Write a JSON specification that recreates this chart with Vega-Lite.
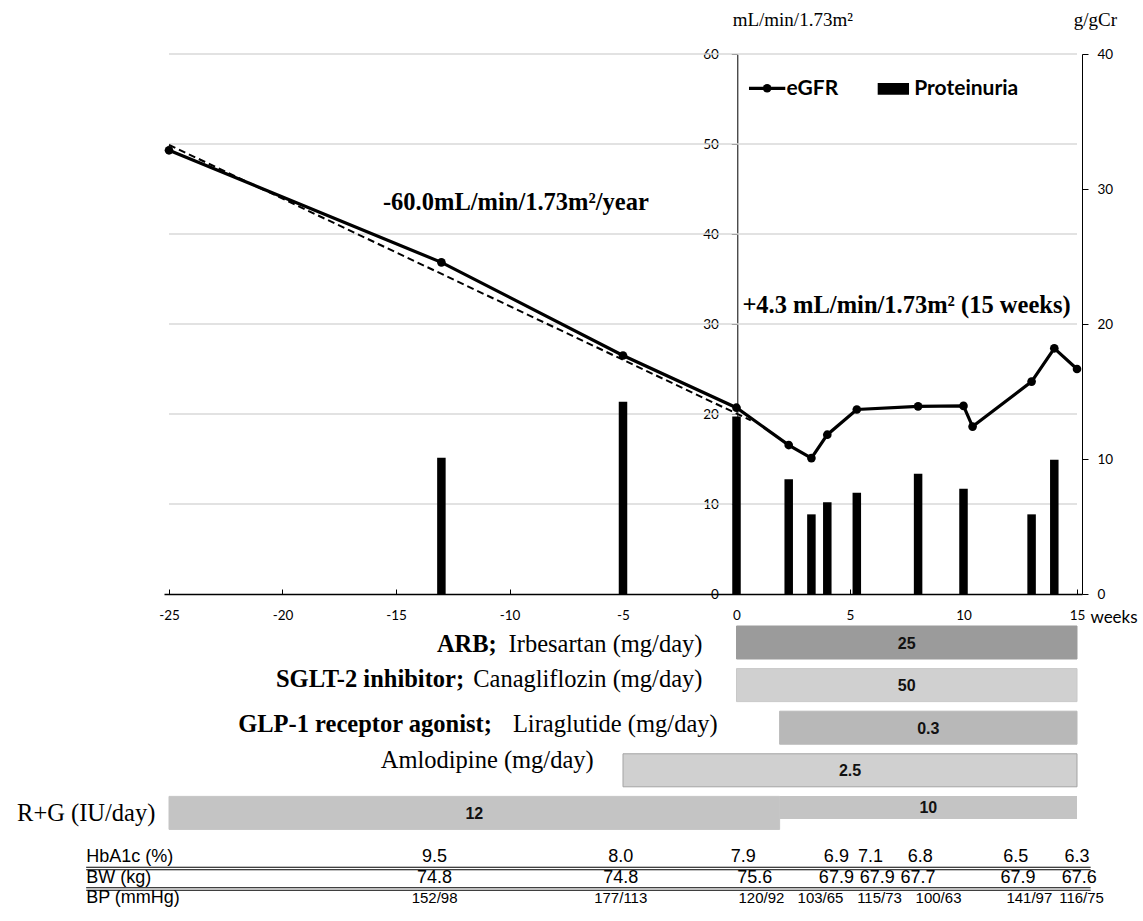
{
  "$schema": "https://vega.github.io/schema/vega-lite/v6.json",
  "width": 918,
  "height": 540,
  "autosize": {"type": "none"},
  "padding": {"left": 164, "top": 54, "right": 61, "bottom": 327},
  "background": "white",
  "config": {"view": {"stroke": null}},
  "datasets": {
    "egfr": [
      {"week": -25, "egfr": 49.3}, {"week": -13, "egfr": 36.85}, {"week": -5, "egfr": 26.5},
      {"week": 0, "egfr": 20.7}, {"week": 2.3, "egfr": 16.55}, {"week": 3.3, "egfr": 15.1},
      {"week": 4.0, "egfr": 17.7}, {"week": 5.3, "egfr": 20.5}, {"week": 8.0, "egfr": 20.85},
      {"week": 10.0, "egfr": 20.9}, {"week": 10.4, "egfr": 18.6}, {"week": 13.0, "egfr": 23.6},
      {"week": 14.0, "egfr": 27.3}, {"week": 15.0, "egfr": 25.0}
    ],
    "trend": [{"week": -25, "egfr": 49.9}, {"week": 0.63, "egfr": 19.3}],
    "gridvals": [{"level": 10}, {"level": 20}, {"level": 30}, {"level": 40}, {"level": 50}, {"level": 60}],
    "prot": [
      {"week": -13, "prot": 10.1}, {"week": -5, "prot": 14.25}, {"week": 0, "prot": 13.15},
      {"week": 2.3, "prot": 8.5}, {"week": 3.3, "prot": 5.9}, {"week": 4.0, "prot": 6.8},
      {"week": 5.3, "prot": 7.5}, {"week": 8.0, "prot": 8.9}, {"week": 10.0, "prot": 7.8},
      {"week": 13.0, "prot": 5.9}, {"week": 14.0, "prot": 9.95}
    ],
    "rx": [
      {"row": "ARB", "week": 0, "week_end": 15, "dose": "25", "part": "a"},
      {"row": "SGLT2", "week": 0, "week_end": 15, "dose": "50", "part": "a"},
      {"row": "GLP1", "week": 1.9, "week_end": 15, "dose": "0.3", "part": "a"},
      {"row": "Amlo", "week": -5, "week_end": 15, "dose": "2.5", "part": "a"},
      {"row": "RG", "week": -25, "week_end": 1.9, "dose": "12", "part": "a"},
      {"row": "RG", "week": 1.9, "week_end": 15, "dose": "10", "part": "b"}
    ],
    "tbl": [
      {"row": "HbA1c", "week": -13.3, "v": "9.5"}, {"row": "HbA1c", "week": -5.1, "v": "8.0"},
      {"row": "HbA1c", "week": 0.3, "v": "7.9"}, {"row": "HbA1c", "week": 4.4, "v": "6.9"},
      {"row": "HbA1c", "week": 5.9, "v": "7.1"}, {"row": "HbA1c", "week": 8.1, "v": "6.8"},
      {"row": "HbA1c", "week": 12.3, "v": "6.5"}, {"row": "HbA1c", "week": 15.0, "v": "6.3"},
      {"row": "BW", "week": -13.3, "v": "74.8"}, {"row": "BW", "week": -5.1, "v": "74.8"},
      {"row": "BW", "week": 0.8, "v": "75.6"}, {"row": "BW", "week": 4.4, "v": "67.9"},
      {"row": "BW", "week": 6.2, "v": "67.9"}, {"row": "BW", "week": 8.0, "v": "67.7"},
      {"row": "BW", "week": 12.4, "v": "67.9"}, {"row": "BW", "week": 15.1, "v": "67.6"},
      {"row": "BP", "week": -13.3, "v": "152/98"}, {"row": "BP", "week": -5.1, "v": "177/113"},
      {"row": "BP", "week": 1.1, "v": "120/92"}, {"row": "BP", "week": 3.7, "v": "103/65"},
      {"row": "BP", "week": 6.3, "v": "115/73"}, {"row": "BP", "week": 8.9, "v": "100/63"},
      {"row": "BP", "week": 12.9, "v": "141/97"}, {"row": "BP", "week": 15.2, "v": "116/75"}
    ]
  },
  "layer": [
    {
      "data": {"name": "gridvals"},
      "mark": {"type": "rule", "color": "#d9d9d9", "strokeWidth": 1.3},
      "encoding": {
        "x": {"datum": -25},
        "x2": {"datum": 15},
        "y": {"field": "level", "type": "quantitative", "scale": {"domain": [0, 60], "nice": false}, "axis": null}
      }
    },
    {
      "data": {"name": "prot"},
      "mark": {"type": "bar", "width": 8.5, "color": "black"},
      "encoding": {
        "x": {
          "field": "week", "type": "quantitative", "title": null,
          "scale": {"domain": [-25, 15], "nice": false, "zero": false},
          "axis": {
            "values": [-25, -20, -15, -10, -5, 0, 5, 10, 15], "grid": false,
            "labelExpr": "'' + datum.value",
            "tickSize": -5, "labelPadding": 19, "labelFlush": false,
            "domainColor": "black", "tickColor": "black", "domainWidth": 1.3,
            "labelColor": "black", "labelFont": "Lato", "labelFontSize": 13.5
          }
        },
        "y": {
          "field": "prot", "type": "quantitative", "title": null,
          "scale": {"domain": [0, 40], "nice": false},
          "axis": {
            "orient": "right", "values": [0, 10, 20, 30, 40], "grid": false,
            "tickSize": 6, "labelPadding": 9, "domainColor": "black", "tickColor": "black",
            "labelColor": "black", "labelFont": "Lato", "labelFontSize": 13.5
          }
        }
      }
    },
    {
      "layer": [
        {
          "data": {"name": "egfr"},
          "mark": {"type": "line", "color": "black", "strokeWidth": 3.2, "point": {"filled": true, "size": 75, "color": "black"}},
          "encoding": {
            "x": {"field": "week", "type": "quantitative", "title": null},
            "y": {
              "field": "egfr", "type": "quantitative", "title": null,
              "scale": {"domain": [0, 60], "nice": false},
              "axis": {
                "orient": "left", "offset": -573.3, "values": [0, 10, 20, 30, 40, 50, 60], "grid": false,
                "tickSize": 6, "labelPadding": 13, "domainColor": "black", "tickColor": "black",
                "labelColor": "black", "labelFont": "Lato", "labelFontSize": 13.5
              }
            }
          }
        },
        {
          "data": {"name": "trend"},
          "mark": {"type": "line", "color": "black", "strokeWidth": 2, "strokeDash": [7, 4]},
          "encoding": {
            "x": {"field": "week", "type": "quantitative", "title": null},
            "y": {"field": "egfr", "type": "quantitative", "title": null}
          }
        },
        {
          "data": {"values": [{}]},
          "mark": {"type": "text", "text": "-60.0mL/min/1.73m²/year", "font": "Liberation Serif", "fontWeight": "bold", "fontSize": 24.5, "align": "left", "baseline": "alphabetic", "color": "black"},
          "encoding": {"x": {"datum": -15.575}, "y": {"datum": 42.7}}
        },
        {
          "data": {"values": [{}]},
          "mark": {"type": "text", "text": "+4.3 mL/min/1.73m² (15 weeks)", "font": "Liberation Serif", "fontWeight": "bold", "fontSize": 24.5, "align": "left", "baseline": "alphabetic", "color": "black"},
          "encoding": {"x": {"datum": 0.26}, "y": {"datum": 31.2}}
        },
        {
          "data": {"values": [{}]},
          "mark": {"type": "text", "text": "mL/min/1.73m²", "font": "Liberation Serif", "fontSize": 19, "align": "left", "baseline": "alphabetic", "color": "black"},
          "encoding": {"x": {"datum": -0.17}, "y": {"datum": 63.07}}
        },
        {
          "data": {"values": [{}]},
          "mark": {"type": "text", "text": "g/gCr", "font": "Liberation Serif", "fontSize": 19, "align": "left", "baseline": "alphabetic", "color": "black"},
          "encoding": {"x": {"datum": 14.86}, "y": {"datum": 63.07}}
        },
        {
          "data": {"values": [{}]},
          "mark": {"type": "text", "text": "weeks", "font": "Lato", "fontSize": 17, "align": "left", "baseline": "alphabetic", "color": "black"},
          "encoding": {"x": {"datum": 15.59}, "y": {"datum": -3.22}}
        },
        {
          "data": {"values": [{}]},
          "mark": {"type": "rule", "color": "black", "strokeWidth": 3.2},
          "encoding": {"x": {"datum": 0.55}, "x2": {"datum": 2.15}, "y": {"datum": 56.19}}
        },
        {
          "data": {"values": [{}]},
          "mark": {"type": "point", "filled": true, "size": 75, "color": "black", "opacity": 1},
          "encoding": {"x": {"datum": 1.35}, "y": {"datum": 56.19}}
        },
        {
          "data": {"values": [{}]},
          "mark": {"type": "text", "text": "eGFR", "font": "Lato", "fontWeight": "bold", "fontSize": 21, "align": "left", "baseline": "alphabetic", "color": "black"},
          "encoding": {"x": {"datum": 2.2}, "y": {"datum": 55.47}}
        },
        {
          "data": {"values": [{}]},
          "mark": {"type": "rect", "color": "black"},
          "encoding": {"x": {"datum": 6.22}, "x2": {"datum": 7.6}, "y": {"datum": 56.78}, "y2": {"datum": 55.48}}
        },
        {
          "data": {"values": [{}]},
          "mark": {"type": "text", "text": "Proteinuria", "font": "Lato", "fontWeight": "bold", "fontSize": 21, "align": "left", "baseline": "alphabetic", "color": "black"},
          "encoding": {"x": {"datum": 7.83}, "y": {"datum": 55.47}}
        }
      ]
    },
    {
      "layer": [
        {
          "data": {"name": "rx"},
          "transform": [{"filter": "datum.part == 'a'"}],
          "mark": {"type": "bar", "strokeWidth": 1},
          "encoding": {
            "x": {"field": "week", "type": "quantitative", "title": null},
            "x2": {"field": "week_end"},
            "y": {
              "field": "row", "type": "nominal", "axis": null,
              "scale": {"type": "band", "domain": ["ARB", "SGLT2", "GLP1", "Amlo", "RG"], "range": [572, 775.4], "paddingInner": 0.225, "paddingOuter": 0}
            },
            "color": {"field": "row", "type": "nominal", "legend": null, "scale": {"domain": ["ARB", "SGLT2", "GLP1", "Amlo", "RG"], "range": ["#9b9b9b", "#d0d0d0", "#b8b8b8", "#d0d0d0", "#c4c4c4"]}},
            "stroke": {"field": "row", "type": "nominal", "legend": null, "scale": {"domain": ["ARB", "SGLT2", "GLP1", "Amlo", "RG"], "range": ["#9b9b9b", "#c8c8c8", "#b8b8b8", "#a3a3a3", "#c4c4c4"]}}
          }
        },
        {
          "data": {"name": "rx"},
          "transform": [{"filter": "datum.part == 'b'"}],
          "mark": {"type": "bar", "height": 23, "yOffset": -5.4, "color": "#c4c4c4"},
          "encoding": {
            "x": {"field": "week", "type": "quantitative", "title": null},
            "x2": {"field": "week_end"},
            "y": {"field": "row", "type": "nominal"}
          }
        },
        {
          "data": {"name": "rx"},
          "transform": [{"filter": "datum.part == 'a'"}, {"calculate": "(datum.week + datum.week_end) / 2", "as": "mid"}],
          "mark": {"type": "text", "font": "Liberation Sans", "fontWeight": "bold", "fontSize": 16, "baseline": "middle", "dy": 1, "color": "#111"},
          "encoding": {"x": {"field": "mid", "type": "quantitative", "title": null}, "y": {"field": "row", "type": "nominal"}, "text": {"field": "dose"}}
        },
        {
          "data": {"name": "rx"},
          "transform": [{"filter": "datum.part == 'b'"}, {"calculate": "(datum.week + datum.week_end) / 2", "as": "mid"}],
          "mark": {"type": "text", "font": "Liberation Sans", "fontWeight": "bold", "fontSize": 16, "baseline": "middle", "dy": -5, "color": "#111"},
          "encoding": {"x": {"field": "mid", "type": "quantitative", "title": null}, "y": {"field": "row", "type": "nominal"}, "text": {"field": "dose"}}
        },
        {
          "data": {"values": [{}]},
          "mark": {"type": "text", "text": "ARB;", "font": "Liberation Serif", "fontWeight": "bold", "fontSize": 24.5, "align": "right", "baseline": "alphabetic", "dy": 9.2, "color": "black"},
          "encoding": {"x": {"datum": -10.56}, "y": {"datum": "ARB"}}
        },
        {
          "data": {"values": [{}]},
          "mark": {"type": "text", "text": "Irbesartan (mg/day)", "font": "Liberation Serif", "fontSize": 24.5, "align": "right", "baseline": "alphabetic", "dy": 9.2, "color": "black"},
          "encoding": {"x": {"datum": -1.5}, "y": {"datum": "ARB"}}
        },
        {
          "data": {"values": [{}]},
          "mark": {"type": "text", "text": "SGLT-2 inhibitor;", "font": "Liberation Serif", "fontWeight": "bold", "fontSize": 24.5, "align": "right", "baseline": "alphabetic", "dy": 1.6, "color": "black"},
          "encoding": {"x": {"datum": -12.0}, "y": {"datum": "SGLT2"}}
        },
        {
          "data": {"values": [{}]},
          "mark": {"type": "text", "text": "Canagliflozin (mg/day)", "font": "Liberation Serif", "fontSize": 24.5, "align": "right", "baseline": "alphabetic", "dy": 1.6, "color": "black"},
          "encoding": {"x": {"datum": -1.5}, "y": {"datum": "SGLT2"}}
        },
        {
          "data": {"values": [{}]},
          "mark": {"type": "text", "text": "GLP-1 receptor agonist;", "font": "Liberation Serif", "fontWeight": "bold", "fontSize": 24.5, "align": "right", "baseline": "alphabetic", "dy": 4, "color": "black"},
          "encoding": {"x": {"datum": -10.78}, "y": {"datum": "GLP1"}}
        },
        {
          "data": {"values": [{}]},
          "mark": {"type": "text", "text": "Liraglutide (mg/day)", "font": "Liberation Serif", "fontSize": 24.5, "align": "right", "baseline": "alphabetic", "dy": 4, "color": "black"},
          "encoding": {"x": {"datum": -0.83}, "y": {"datum": "GLP1"}}
        },
        {
          "data": {"values": [{}]},
          "mark": {"type": "text", "text": "Amlodipine (mg/day)", "font": "Liberation Serif", "fontSize": 24.5, "align": "right", "baseline": "alphabetic", "dy": -2, "color": "black"},
          "encoding": {"x": {"datum": -6.29}, "y": {"datum": "Amlo"}}
        },
        {
          "data": {"values": [{}]},
          "mark": {"type": "text", "text": "R+G (IU/day)", "font": "Liberation Serif", "fontSize": 24.5, "align": "right", "baseline": "alphabetic", "dy": 8, "color": "black"},
          "encoding": {"x": {"datum": -25.6}, "y": {"datum": "RG"}}
        }
      ]
    },
    {
      "layer": [
        {
          "data": {"name": "tbl"},
          "transform": [{"filter": "datum.row != 'BP'"}],
          "mark": {"type": "text", "font": "Liberation Sans", "fontSize": 18, "baseline": "middle", "color": "black"},
          "encoding": {
            "x": {"field": "week", "type": "quantitative", "title": null},
            "y": {
              "field": "row", "type": "nominal", "axis": null,
              "scale": {"type": "band", "domain": ["HbA1c", "BW", "BP"], "range": [792.75, 854.25], "paddingInner": 0, "paddingOuter": 0}
            },
            "text": {"field": "v"}
          }
        },
        {
          "data": {"name": "tbl"},
          "transform": [{"filter": "datum.row == 'BP'"}],
          "mark": {"type": "text", "font": "Liberation Sans", "fontSize": 15, "baseline": "middle", "color": "black"},
          "encoding": {
            "x": {"field": "week", "type": "quantitative", "title": null},
            "y": {"field": "row", "type": "nominal"},
            "text": {"field": "v"}
          }
        },
        {
          "data": {"values": [{"row": "HbA1c", "label": "HbA1c (%)"}, {"row": "BW", "label": "BW (kg)"}, {"row": "BP", "label": "BP (mmHg)"}]},
          "mark": {"type": "text", "font": "Liberation Sans", "fontSize": 18, "align": "left", "baseline": "middle", "color": "black"},
          "encoding": {"x": {"datum": -28.65}, "y": {"field": "row", "type": "nominal"}, "text": {"field": "label"}}
        },
        {
          "data": {"values": [{"row": "HbA1c"}, {"row": "BW"}]},
          "mark": {"type": "rule", "color": "black", "strokeWidth": 1.2},
          "encoding": {"x": {"datum": -28.65}, "x2": {"datum": 15.6}, "y": {"field": "row", "type": "nominal", "bandPosition": 1}}
        },
        {
          "data": {"values": [{"row": "HbA1c"}, {"row": "BW"}]},
          "mark": {"type": "rule", "color": "black", "strokeWidth": 1, "yOffset": 2.5},
          "encoding": {"x": {"datum": -28.65}, "x2": {"datum": 15.6}, "y": {"field": "row", "type": "nominal", "bandPosition": 1}}
        }
      ]
    }
  ],
  "resolve": {"scale": {"y": "independent", "color": "independent", "stroke": "independent"}, "axis": {"y": "independent"}}
}
